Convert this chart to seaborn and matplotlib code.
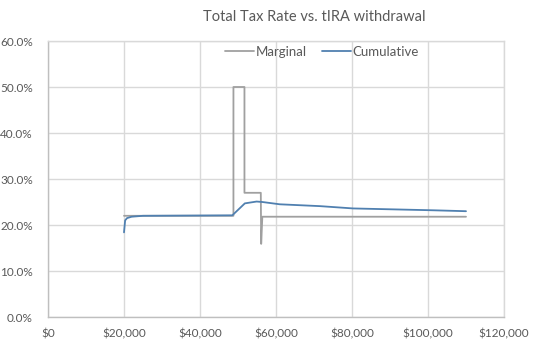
import matplotlib
matplotlib.use("Agg")
import matplotlib.pyplot as plt
import matplotlib.ticker as mticker
import pandas as pd
import seaborn as sns

# Marginal tax rate (step-like) by traditional IRA withdrawal
marginal_x = [20000, 48800, 48800, 51700, 51700, 56000, 56100, 56400, 110000]
marginal_y = [0.220, 0.220, 0.500, 0.500, 0.270, 0.270, 0.159, 0.218, 0.218]

# Cumulative (average) tax rate
cumulative_x = [20000, 20300, 20800, 22000, 25000, 48500, 51800, 54900, 56400,
                61000, 71600, 80300, 101300, 110000]
cumulative_y = [0.184, 0.210, 0.215, 0.218, 0.220, 0.221, 0.247, 0.251, 0.250,
                0.245, 0.241, 0.236, 0.232, 0.230]

series_names = ["Marginal", "Cumulative"]
series_colors = ["#a0a0a0", "#5080b0"]

x_ticks = [0, 20000, 40000, 60000, 80000, 100000, 120000]
y_ticks = [0.0, 0.1, 0.2, 0.3, 0.4, 0.5, 0.6]
title = "Total Tax Rate vs. tIRA withdrawal"

sns.set_theme(style="white")
plt.rcParams["font.family"] = ["Lato", "DejaVu Sans"]
text_color = "#595959"

marg = pd.DataFrame({"x": marginal_x, "rate": marginal_y})
cum = pd.DataFrame({"x": cumulative_x, "rate": cumulative_y})

fig = plt.figure(figsize=(5.4, 3.5), dpi=100)
ax = fig.add_axes([48 / 540, 1 - 317 / 350, 456 / 540, 276 / 350])

sns.lineplot(data=marg, x="x", y="rate", ax=ax, estimator=None, sort=False,
             color=series_colors[0], linewidth=1.3, label=series_names[0])
sns.lineplot(data=cum, x="x", y="rate", ax=ax, estimator=None, sort=False,
             color=series_colors[1], linewidth=1.3, label=series_names[1])

ax.set_xlim(x_ticks[0], x_ticks[-1])
ax.set_ylim(y_ticks[0], y_ticks[-1])
ax.set_xticks(x_ticks)
ax.set_yticks(y_ticks)
ax.xaxis.set_major_formatter(mticker.FuncFormatter(lambda v, p: f"${v:,.0f}"))
ax.yaxis.set_major_formatter(mticker.FuncFormatter(lambda v, p: f"{v * 100:.1f}%"))
ax.set_xlabel("")
ax.set_ylabel("")

ax.grid(True, color="#d9d9d9", linewidth=1.0)
ax.set_axisbelow(True)
for side in ["top", "right"]:
    ax.spines[side].set_color("#d9d9d9")
    ax.spines[side].set_linewidth(1.0)
for side in ["left", "bottom"]:
    ax.spines[side].set_color("#bfbfbf")
    ax.spines[side].set_linewidth(1.0)

ax.tick_params(axis="both", length=0, labelsize=8.5, labelcolor=text_color)
ax.tick_params(axis="y", pad=11)
ax.tick_params(axis="x", pad=8)

leg = ax.legend(loc="center", bbox_to_anchor=(322 / 540, 1 - 52 / 350),
                bbox_transform=fig.transFigure, ncol=2, frameon=False,
                fontsize=9.5, handlelength=2.2, handletextpad=0.1,
                columnspacing=1.2)
for t in leg.get_texts():
    t.set_color(text_color)

fig.text(314 / 540, 1 - 17 / 350, title, ha="center", va="center",
         fontsize=10.5, color=text_color)

fig.savefig("out.png", dpi=100)
